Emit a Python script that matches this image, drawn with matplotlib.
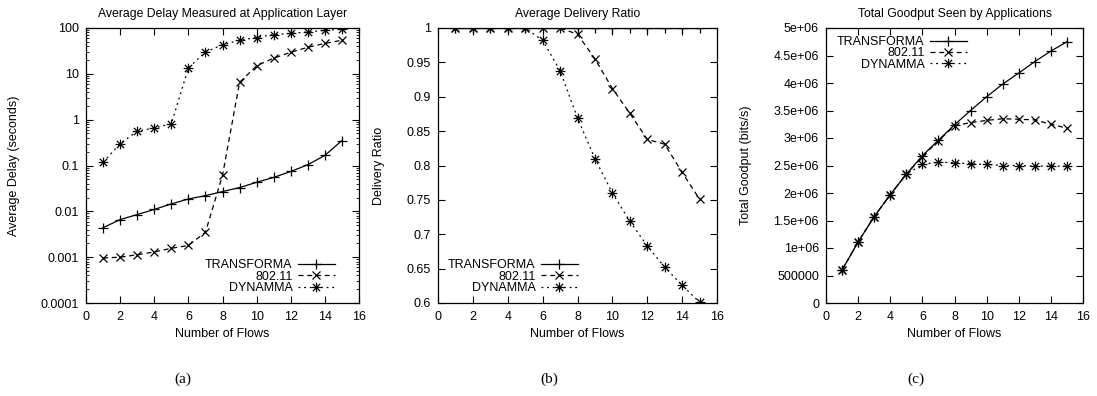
import matplotlib
matplotlib.use("Agg")
import matplotlib.pyplot as plt
from matplotlib.path import Path
from matplotlib.ticker import FuncFormatter, MultipleLocator, LogLocator, NullFormatter
import numpy as np

flows = [1, 2, 3, 4, 5, 6, 7, 8, 9, 10, 11, 12, 13, 14, 15]
series_names = ["TRANSFORMA", "802.11", "DYNAMMA"]

delay_transforma = [0.0044, 0.0066, 0.0085, 0.011, 0.0145, 0.0186, 0.022, 0.027,
                    0.033, 0.043, 0.055, 0.074, 0.104, 0.166, 0.35]
delay_80211 = [0.00096, 0.001, 0.00113, 0.0013, 0.00156, 0.0018, 0.0035, 0.061,
               6.5, 15, 22, 29.5, 38, 46, 54]
delay_dynamma = [0.117, 0.30, 0.56, 0.66, 0.81, 13.4, 30, 43, 54, 62, 72, 76, 82, 89, 94]

ratio_transforma = [1, 1, 1, 1, 1, 1, 1, 1, 1, 1, 1, 1, 1, 1, 1]
ratio_80211 = [1, 1, 1, 1, 1, 1, 1, 0.991, 0.955, 0.912, 0.876, 0.838, 0.831, 0.79, 0.751]
ratio_dynamma = [1, 1, 1, 1, 1, 0.982, 0.938, 0.869, 0.81, 0.760, 0.719, 0.683, 0.652, 0.626, 0.601]

goodput_transforma = [0.60e6, 1.11e6, 1.57e6, 1.97e6, 2.34e6, 2.68e6, 2.96e6, 3.24e6,
                      3.50e6, 3.75e6, 3.98e6, 4.18e6, 4.39e6, 4.58e6, 4.75e6]
goodput_80211 = [0.60e6, 1.11e6, 1.57e6, 1.97e6, 2.34e6, 2.66e6, 2.95e6, 3.22e6,
                 3.28e6, 3.32e6, 3.35e6, 3.34e6, 3.33e6, 3.25e6, 3.18e6]
goodput_dynamma = [0.60e6, 1.11e6, 1.57e6, 1.97e6, 2.34e6, 2.52e6, 2.56e6, 2.55e6,
                   2.53e6, 2.52e6, 2.50e6, 2.50e6, 2.49e6, 2.49e6, 2.49e6]

titles = ["Average Delay Measured at Application Layer", "Average Delivery Ratio",
          "Total Goodput Seen by Applications"]
ylabels = ["Average Delay (seconds)", "Delivery Ratio", "Total Goodput (bits/s)"]
xlabel = "Number of Flows"
captions = ["(a)", "(b)", "(c)"]

plt.rcParams["font.family"] = ["Liberation Sans", "DejaVu Sans"]
plt.rcParams["font.size"] = 9

# star marker: + and x superimposed
star = Path([(-1, 0), (1, 0), (0, -1), (0, 1), (-0.75, -0.75), (0.75, 0.75),
             (-0.75, 0.75), (0.75, -0.75)],
            [Path.MOVETO, Path.LINETO] * 4)

styles = [
    dict(linestyle="-", marker="+", markersize=7),
    dict(linestyle=(0, (4, 3)), marker="x", markersize=6),
    dict(linestyle=(0, (1.5, 3)), marker=star, markersize=7),
]

fig = plt.figure(figsize=(10.97, 3.96), dpi=100)
W, H = 1097, 396
boxes = [(86, 359), (438, 717), (826, 1083)]
top, bottom = 28, 303
ylabel_right = [20, 385, 752]
caption_x = [183, 549, 916]
legend_anchor = [("lower right", (335, 294)), ("lower left", (448, 294)),
                 ("upper left", (837, 36))]

data = [
    [delay_transforma, delay_80211, delay_dynamma],
    [ratio_transforma, ratio_80211, ratio_dynamma],
    [goodput_transforma, goodput_80211, goodput_dynamma],
]

axes = []
for i, (l, r) in enumerate(boxes):
    ax = fig.add_axes([l / W, (H - bottom) / H, (r - l) / W, (bottom - top) / H])
    axes.append(ax)
    for name, ys, st in zip(series_names, data[i], styles):
        ax.plot(flows, ys, color="black", linewidth=0.9, label=name,
                markerfacecolor="none", markeredgecolor="black", markeredgewidth=0.9, **st)
    ax.set_xlim(0, 16)
    ax.xaxis.set_major_locator(MultipleLocator(2))
    ax.set_title(titles[i], fontsize=8.8, pad=8)
    ax.set_xlabel(xlabel, fontsize=9, labelpad=3.5)
    ax.set_ylabel(ylabels[i], fontsize=9)
    ax.yaxis.set_label_coords((ylabel_right[i] - l) / (r - l), 0.5)
    ax.tick_params(which="both", direction="in", top=True, right=True, labelsize=9)
    ax.tick_params(which="major", length=5, width=0.8)
    ax.tick_params(which="minor", length=2.5, width=0.6)
    ax.tick_params(axis="x", pad=6)
    ax.tick_params(axis="y", pad=5)
    for s in ax.spines.values():
        s.set_linewidth(0.9)

fmt = FuncFormatter(lambda v, p: "%g" % v)

ax = axes[0]
ax.set_yscale("log")
ax.set_ylim(1e-4, 100)
ax.yaxis.set_major_locator(LogLocator(base=10, numticks=10))
ax.yaxis.set_minor_locator(LogLocator(base=10, subs=np.arange(2, 10), numticks=20))
ax.yaxis.set_minor_formatter(NullFormatter())
ax.yaxis.set_major_formatter(fmt)

ax = axes[1]
ax.set_ylim(0.6, 1.0)
ax.yaxis.set_major_locator(MultipleLocator(0.05))
ax.yaxis.set_major_formatter(fmt)

ax = axes[2]
ax.set_ylim(0, 5e6)
ax.yaxis.set_major_locator(MultipleLocator(5e5))
ax.yaxis.set_major_formatter(fmt)

for i, ax in enumerate(axes):
    l, r = boxes[i]
    loc, (px, py) = legend_anchor[i]
    ax.legend(loc=loc, bbox_to_anchor=((px - l) / (r - l), (bottom - py) / (bottom - top)),
              markerfirst=False, frameon=False, handlelength=3.0,
              handletextpad=0.4, labelspacing=-0.05, borderaxespad=0, borderpad=0,
              fontsize=9)

for i in range(3):
    fig.text(caption_x[i] / W, 1 - 379 / H, captions[i], ha="center", va="center",
             fontsize=11, family=["Liberation Serif", "DejaVu Serif"])

fig.savefig("out.png", dpi=100)
